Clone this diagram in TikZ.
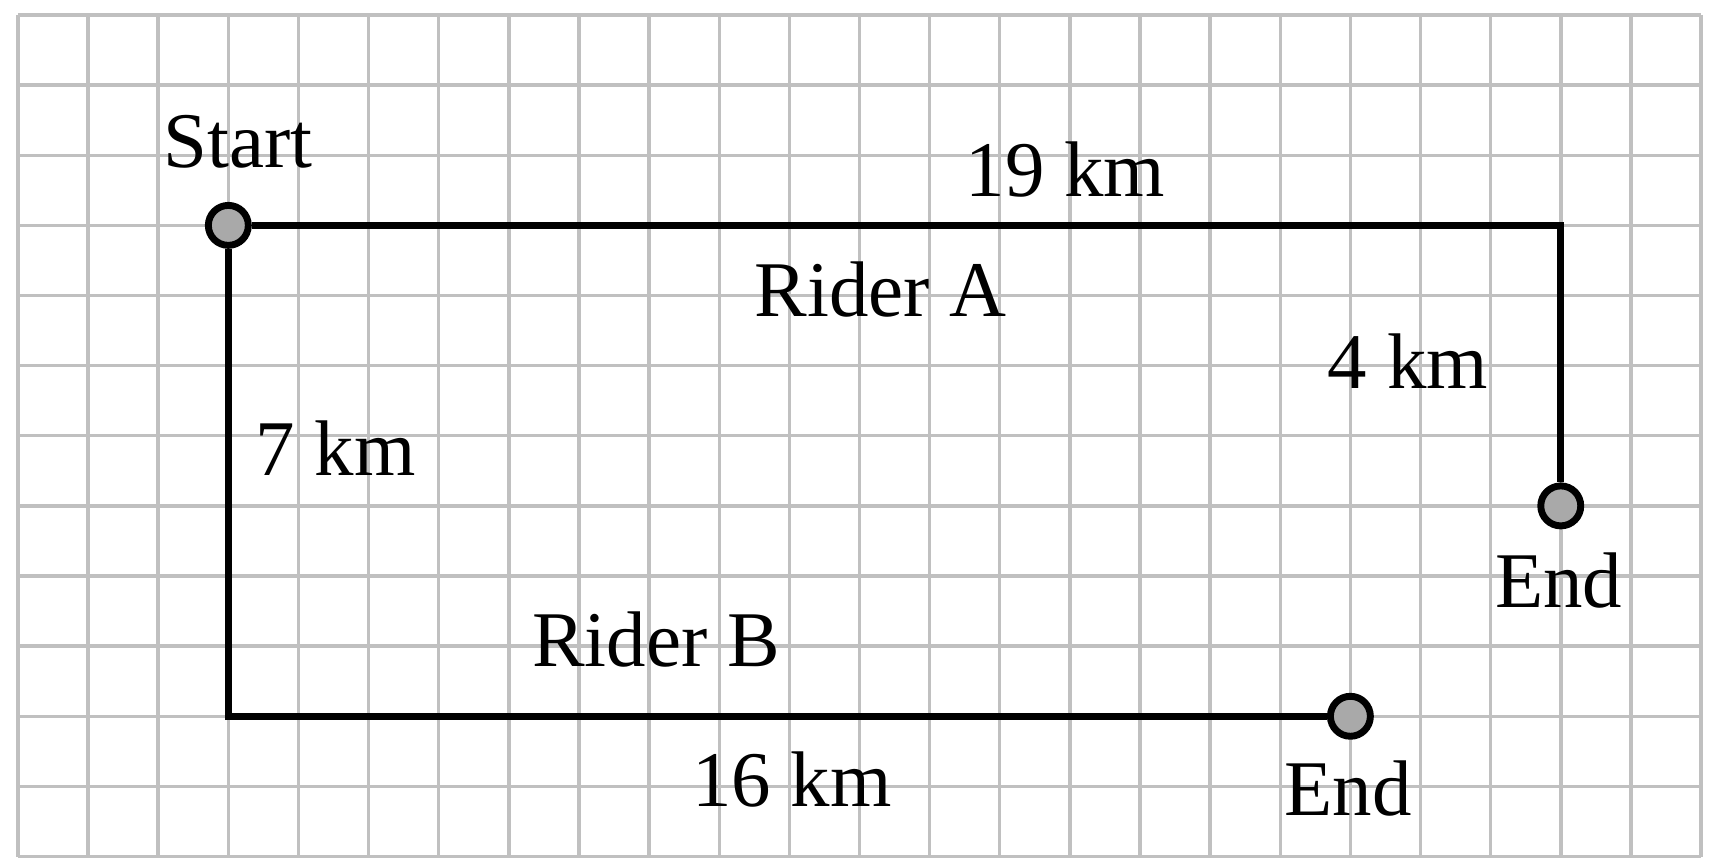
\documentclass[tikz,border=0pt]{standalone}
\usepackage{fontspec}
\setmainfont{Liberation Serif}
\definecolor{gridgray}{HTML}{C0C0C0}
\definecolor{dotgray}{HTML}{A9A9A9}
\tikzset{
  gridline/.style={draw=gridgray, line width=1.4pt},
  route/.style={draw=black, line width=2.8pt},
  dot/.style={circle, draw=black, line width=2.8pt, fill=dotgray, inner sep=0pt, minimum size=0.57cm},
  lbl/.style={anchor=base, inner sep=0pt, font=\fontsize{32}{38}\selectfont}
}
\begin{document}
\begin{tikzpicture}
\useasboundingbox (-0.256,-0.142) rectangle (24.185,12.214);
\draw[gridline] (0,0) grid (24,12);
\node[dot] (start) at (3,9) {};
\node[dot] (endA) at (22,5) {};
\node[dot] (endB) at (19,2) {};
\coordinate (cornerA) at (22,9);
\coordinate (cornerB) at (3,2);
\draw[route] (start) -- (cornerA) -- (endA);
\draw[route] (start) -- (cornerB) -- (endB);
\node[lbl] (tstart) at (3.14,9.82) {Start};
\node[lbl] (t19) at (14.94,9.41) {19 km};
\node[lbl] (triderA) at (12.3,7.70) {Rider A};
\node[lbl] (t4) at (19.82,6.67) {4 km};
\node[lbl] (t7) at (4.53,5.44) {7 km};
\node[lbl] (tendA) at (21.97,3.55) {End};
\node[lbl] (triderB) at (9.1,2.71) {Rider B};
\node[lbl] (t16) at (11.04,0.72) {16 km};
\node[lbl] (tendB) at (18.97,0.58) {End};
\end{tikzpicture}
\end{document}
